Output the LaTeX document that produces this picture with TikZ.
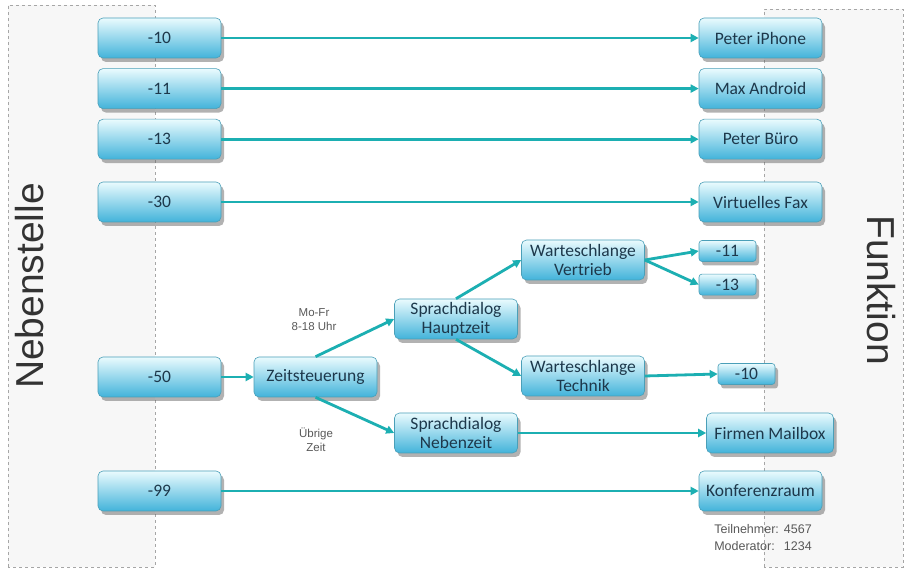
\documentclass[tikz,border=0pt]{standalone}
\usepackage{fontspec}
\setmainfont{Carlito}
\newfontfamily\labelfont{Liberation Sans}
\usepackage{tikz}
\usetikzlibrary{arrows.meta}
\usetikzlibrary{positioning,shadows}
\definecolor{boxtop}{HTML}{EAFBFE}
\definecolor{boxbottom}{HTML}{42B3DA}
\definecolor{boxedge}{HTML}{4A9FB8}
\definecolor{boxtext}{HTML}{1D384B}
\definecolor{linkcol}{HTML}{1CAFB2}
\tikzset{
    box/.style={
        draw=boxedge,
        line width=0.6pt,
        rounded corners=5pt,
        top color=boxtop,
        bottom color=boxbottom,
        drop shadow={shadow xshift=3pt,shadow yshift=-4pt,opacity=0.5,fill=black!60},
        minimum width=123pt,
        minimum height=40pt,
        inner sep=3pt,
        align=center,
        text=boxtext,
        font=\fontsize{17.5}{19}\selectfont
    },
    small box/.style={
        box,
        rounded corners=3pt,
        minimum width=57pt,
        minimum height=21pt,
        inner sep=1pt
    },
    link/.style={
        draw=linkcol,
        line width=2.8pt,
        -{Triangle[length=8pt,width=8pt]}
    },
    panel/.style={
        draw=black!35,
        dashed,
        fill=black!3,
        line width=0.5pt
    },
    note/.style={
        align=center,
        text=black!65,
        font=\labelfont\fontsize{11.5}{14}\selectfont
    },
    side/.style={
        text=black!80,
        font=\labelfont\fontsize{39}{39}\selectfont
    }
}

\begin{document}
\begin{tikzpicture}[x=1pt,y=1pt]
    \useasboundingbox (0,0) rectangle (904,572);
    \fill[white] (0,0) rectangle (904,572);
    % Nebenstelle / Funktion
    \draw[panel] (8,5) rectangle (155,567);
    \draw[panel] (764,5) rectangle (903,563);
    \node[side,rotate=90] (nst) at (30,286) {Nebenstelle};
    \node[side,rotate=-90] (fkt) at (881,282) {Funktion};

    \node[box] (ext10) at (159.5,534) {-10};
    \node[box,below=10pt of ext10] (ext11) {-11};
    \node[box,below=10pt of ext11] (ext13) {-13};
    \node[box] (ext30) at (159.5,370) {-30};
    \node[box] (ext50) at (159.5,195) {-50};
    \node[box] (ext99) at (159.5,81) {-99};

    \node[box] (iphone) at (760.5,534) {Peter iPhone};
    \node[box,below=10pt of iphone] (android) {Max Android};
    \node[box,below=10pt of android] (buero) {Peter Büro};
    \node[box] (fax) at (760.5,370) {Virtuelles Fax};
    \node[box,minimum width=127pt] (mailbox) at (770,139) {Firmen Mailbox};
    \node[box] (konf) at (760.5,81) {Konferenzraum};

    \node[box] (zeit) at (315.5,195) {Zeitsteuerung};
    \node[box] (haupt) at (456,253) {Sprachdialog\\Hauptzeit};
    \node[box] (neben) at (456,139) {Sprachdialog\\Nebenzeit};
    \node[box] (vertrieb) at (583,312) {Warteschlange\\Vertrieb};
    \node[box] (technik) at (583,196) {Warteschlange\\Technik};

    \node[small box] (q11) at (727.5,321) {-11};
    \node[small box,below=12pt of q11] (q13) {-13};
    \node[small box] (q10) at (746.5,198) {-10};

    \node[note] (mofr) at (314,252) {Mo-Fr\\8-18 Uhr};
    \node[note] (rest) at (316,132) {Übrige\\Zeit};
    \node[note,font=\labelfont\fontsize{12.5}{17}\selectfont] (pins) at (763,33.5)
        {\begin{tabular}{@{}l@{\hspace{5pt}}l@{}}Teilnehmer: & 4567\\Moderator: & 1234\end{tabular}};

    \foreach \s/\t in {ext10/iphone,ext11/android,ext13/buero,ext30/fax,ext99/konf,ext50/zeit}
      \draw[link] (\s.east) -- (\t.west);
    \draw[link] (zeit.north) -- (haupt.west);
    \draw[link] (zeit.south) -- (neben.west);
    \draw[link] (haupt.north) -- (vertrieb.west);
    \draw[link] (haupt.south) -- (technik.west);
    \draw[link] (vertrieb.east) -- (q11.west);
    \draw[link] (vertrieb.east) -- (q13.west);
    \draw[link] (technik.east) -- (q10.west);
    \draw[link] (neben.east) -- (mailbox.west);
\end{tikzpicture}
\end{document}
